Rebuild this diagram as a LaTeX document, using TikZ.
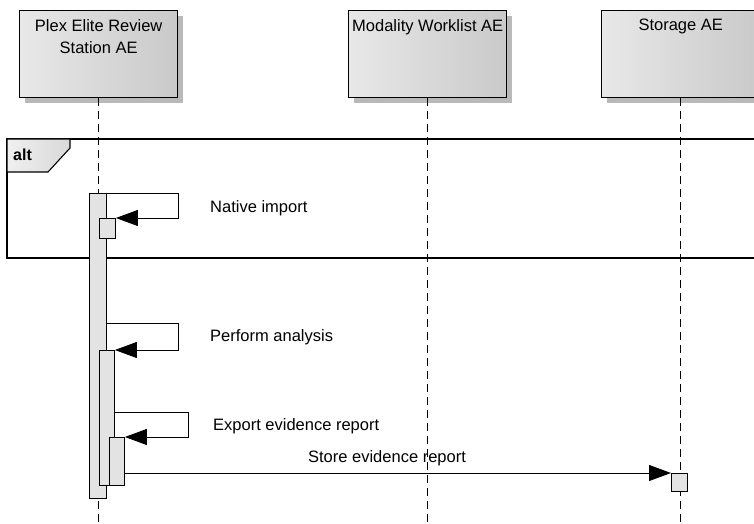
\documentclass[tikz,border=0pt]{standalone}
\usepackage{fontspec}
\setmainfont{Liberation Sans}
\usetikzlibrary{arrows.meta,shadows}

\begin{document}
\begin{tikzpicture}[x=1bp,y=-1bp,
    font=\fontsize{16.5bp}{22bp}\selectfont,
    lifebox/.style={draw, line width=1.4bp, inner sep=0, anchor=north west,
      minimum width=158bp, minimum height=87bp, shading=axis,
      left color=gray!18, right color=gray!42,
      drop shadow={shadow xshift=5bp, shadow yshift=-5bp, fill=gray!55, opacity=1}},
    boxtext/.style={anchor=north, align=center, inner sep=4bp, yshift=-5bp},
    lifeline/.style={line width=1.1bp, dash pattern=on 8bp off 5bp},
    act/.style={draw, line width=0.9bp, fill=gray!22, inner sep=0, anchor=north west},
    msg/.style={line width=0.9bp, -{Triangle[length=22bp,width=16bp]}},
    msglabel/.style={anchor=west, inner sep=0}]

  \clip (0,0) rectangle (754,524);
  \useasboundingbox (0,0) rectangle (754,524);

  % lifelines heads
  \node[lifebox] (review) at (19,10) {};
  \node[boxtext] (reviewname) at (review.north) {Plex Elite Review\\Station AE};
  \node[lifebox] (worklist) at (348,10) {};
  \node[boxtext] (worklistname) at (worklist.north) {Modality Worklist AE};
  \node[lifebox] (storage) at (601,10) {};
  \node[boxtext] (storagename) at (storage.north) {Storage AE};

  \coordinate (reviewend) at (review.south |- 0,524);
  \coordinate (worklistend) at (worklist.south |- 0,524);
  \coordinate (storageend) at (storage.south |- 0,524);
  \draw[lifeline] (review.south) -- (reviewend);
  \draw[lifeline] (worklist.south) -- (worklistend);
  \draw[lifeline] (storage.south) -- (storageend);

  % alt fragment
  \draw[line width=1.3bp] (7,139) rectangle (770,258);
  \draw[line width=1.1bp, shading=axis, left color=gray!12, right color=gray!30]
    (7,139) -- (70,139) -- (70,148) -- (48,172) -- (7,172) -- cycle;
  \node[font=\fontsize{16bp}{22bp}\selectfont\bfseries, anchor=west, inner sep=0] (altlabel) at (13,155) {alt};

  % activations
  \node[act, minimum width=17bp, minimum height=305bp] (mainact) at (89,193) {};
  \node[act, minimum width=16bp, minimum height=20bp] (nativeact) at (99,218) {};
  \node[act, minimum width=15bp, minimum height=135bp] (analyseact) at (99,350) {};
  \node[act, minimum width=15bp, minimum height=48bp] (exportact) at (109,437) {};
  \node[act, minimum width=16bp, minimum height=18bp] (storeact) at (671,473) {};

  % messages
  \draw[msg] (mainact.north east) -- ++(72,0) |- (nativeact.north east);
  \node[msglabel] (nativelabel) at (210,208) {Native import};

  \coordinate (analysestart) at (mainact.east |- 0,323);
  \draw[msg] (analysestart) -- ++(72,0) |- (analyseact.north east);
  \node[msglabel] (analyselabel) at (210,337) {Perform analysis};

  \coordinate (exportstart) at (analyseact.east |- 0,412);
  \draw[msg] (exportstart) -- ++(74,0) |- (exportact.north east);
  \node[msglabel] (exportlabel) at (213,426) {Export evidence report};

  \draw[msg] (exportact.east |- storeact.north) -- (storeact.north west)
    node[pos=0.48, above=3bp] (storelabel) {Store evidence report};
\end{tikzpicture}
\end{document}
